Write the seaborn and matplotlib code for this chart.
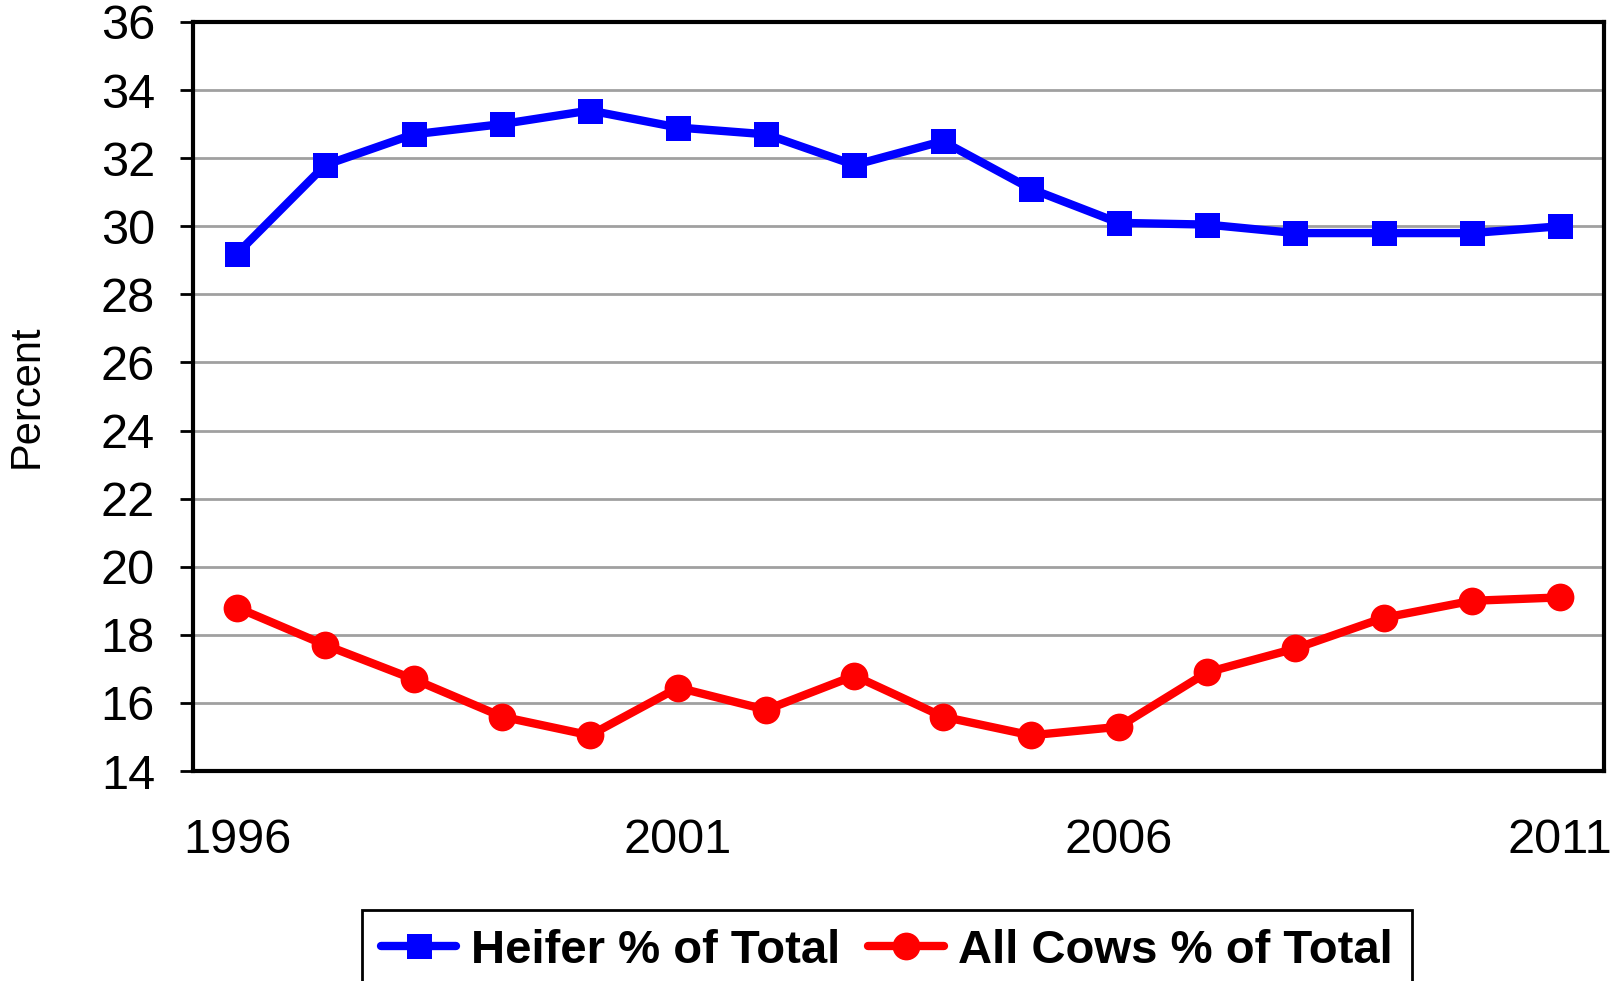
import pandas as pd
import matplotlib
matplotlib.use('Agg')
import matplotlib.pyplot as plt
import seaborn as sns

years = list(range(1996, 2012))
heifer_pct = [29.2, 31.8, 32.7, 33.0, 33.4, 32.9, 32.7, 31.8, 32.5, 31.1, 30.1, 30.05, 29.8, 29.8, 29.8, 30.0]
cows_pct = [18.8, 17.7, 16.7, 15.6, 15.05, 16.45, 15.8, 16.8, 15.6, 15.05, 15.3, 16.9, 17.6, 18.5, 19.0, 19.1]
series_names = ['Heifer % of Total', 'All Cows % of Total']
year_ticks = [1996, 2001, 2006, 2011]
y_ticks = list(range(14, 37, 2))

df = pd.DataFrame({'year': years, series_names[0]: heifer_pct, series_names[1]: cows_pct})
long_df = df.melt(id_vars='year', var_name='series', value_name='pct')

sns.set_style('white')
plt.rcParams['font.family'] = ['Liberation Sans', 'DejaVu Sans']
plt.rcParams['text.color'] = 'black'
plt.rcParams['axes.labelcolor'] = 'black'
plt.rcParams['xtick.color'] = 'black'
plt.rcParams['ytick.color'] = 'black'

fig = plt.figure(figsize=(16.13, 9.81), dpi=100)
ax = fig.add_axes([0.1197, 0.214, 0.8747, 0.7636])

sns.lineplot(data=long_df, x='year', y='pct', hue='series', style='series',
             palette={series_names[0]: '#0000ff', series_names[1]: '#ff0000'},
             markers={series_names[0]: 's', series_names[1]: 'o'},
             dashes=False, linewidth=6, markersize=18, markeredgewidth=0,
             ax=ax, legend=True)
for ln in ax.lines:
    if ln.get_marker() == 'o':
        ln.set_markersize(20)

ax.set_xlim(1995.5, 2011.5)
ax.set_ylim(14, 36)
ax.set_xticks(year_ticks)
ax.set_xticklabels([str(y) for y in year_ticks])
ax.set_yticks(y_ticks)
ax.tick_params(axis='x', length=0, pad=34, labelsize=35)
ax.tick_params(axis='y', length=9.5, width=2, direction='out', left=True, labelsize=35, pad=18)
ax.yaxis.grid(True, color='#a0a0a0', linewidth=2)
ax.set_axisbelow(True)
for sp in ax.spines.values():
    sp.set_color('black')
    sp.set_linewidth(3)

ax.set_xlabel('')
ax.set_ylabel('Percent', fontsize=30)
ax.yaxis.set_label_coords(-0.104, 0.5)

handles, labels = ax.get_legend_handles_labels()
ax.legend_.remove()
leg = fig.legend(handles, labels, loc='upper left', bbox_to_anchor=(0.2244, 0.0724),
                 ncol=2, frameon=True, fancybox=False, framealpha=1, edgecolor='black',
                 prop={'weight': 'bold', 'size': 34}, handlelength=1.6, handletextpad=0.3,
                 columnspacing=0.6, borderpad=0.4, borderaxespad=0)
leg.get_frame().set_linewidth(2)

fig.savefig('out.png', dpi=100)
